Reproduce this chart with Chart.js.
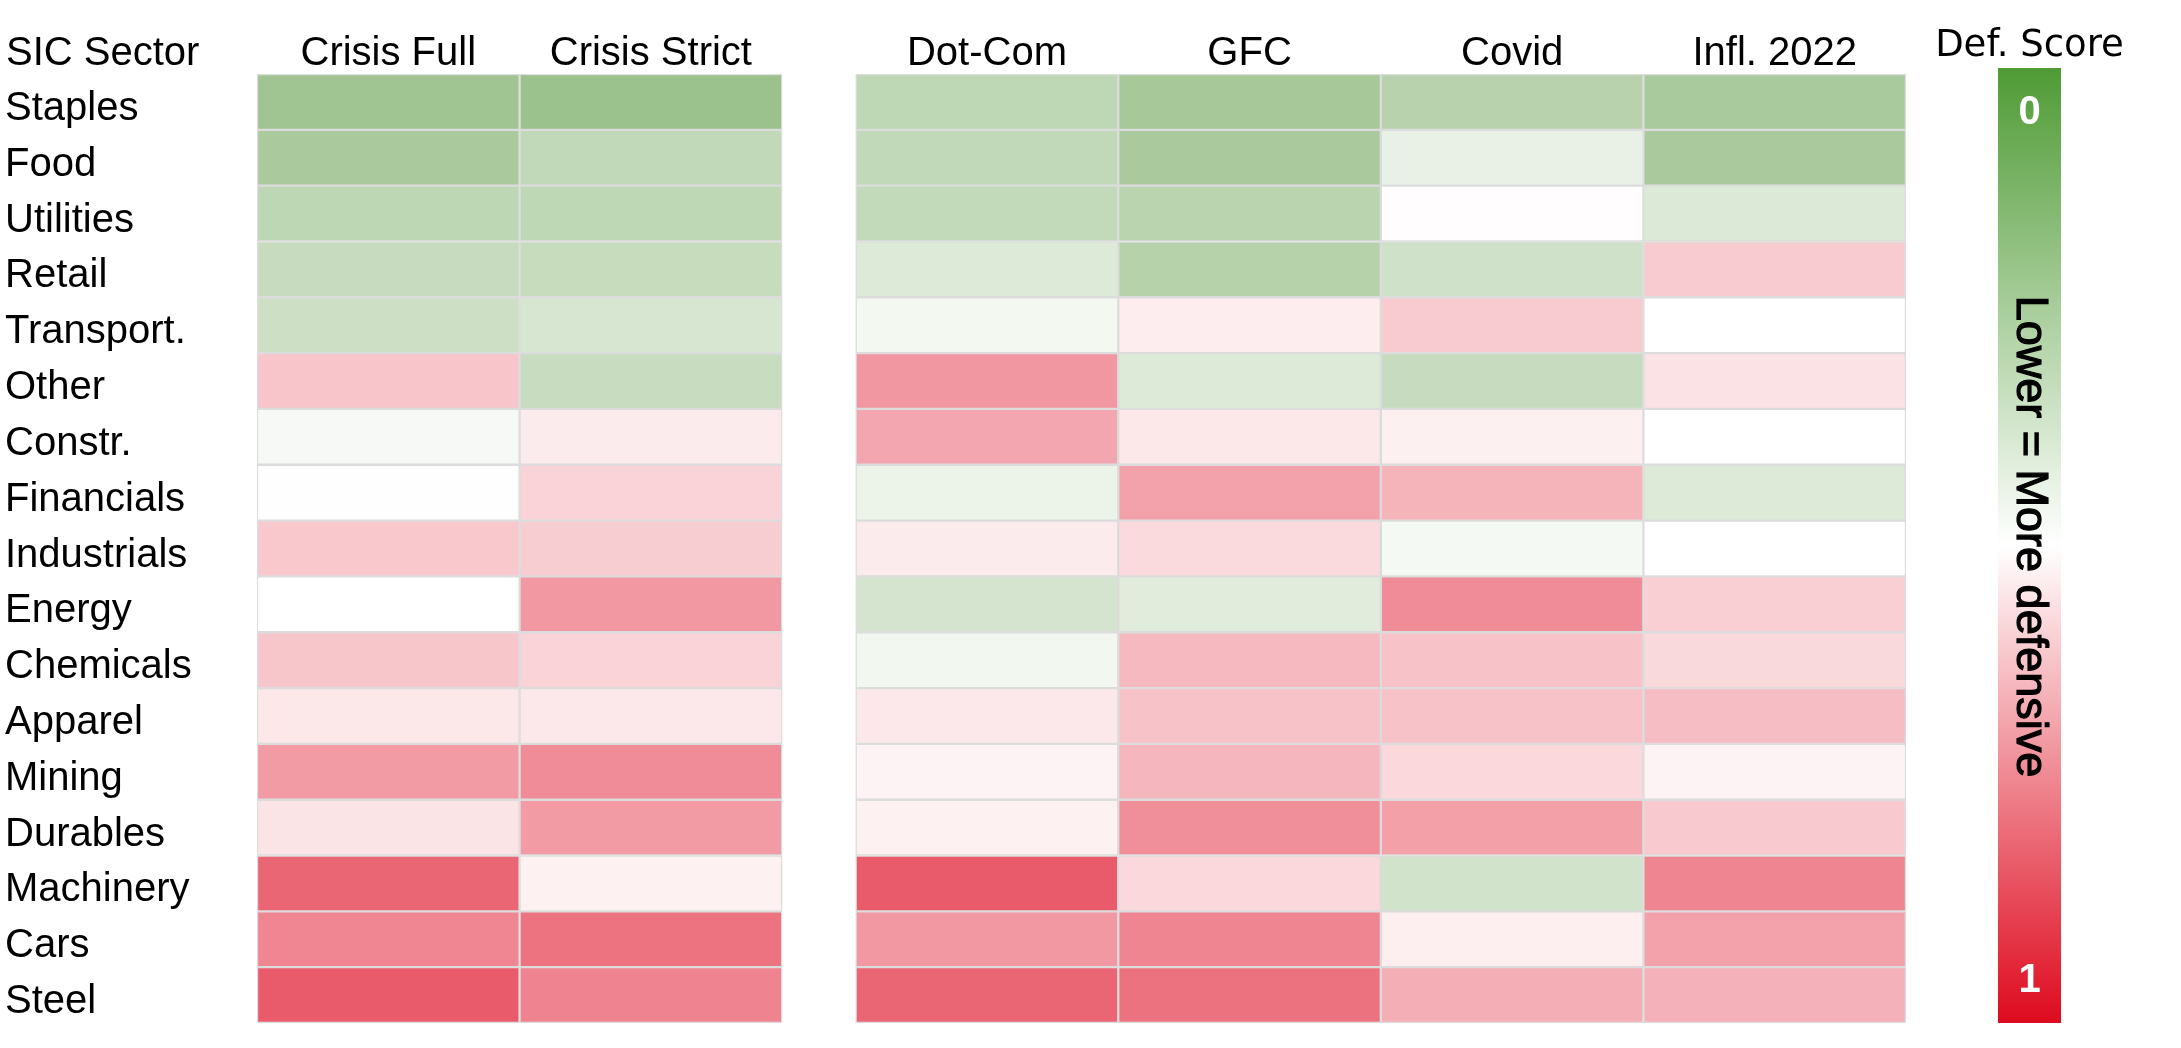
<!DOCTYPE html>
<html>
<head>
<meta charset="utf-8">
<script src="https://cdn.jsdelivr.net/npm/chart.js@4"></script>
<style>
  html, body { margin: 0; padding: 0; background: #fff; }
  #wrap { width: 2181px; height: 1048px; }
</style>
</head>
<body>
<div id="wrap"><canvas id="chart"></canvas></div>
<script>
const sectors = ['Staples', 'Food', 'Utilities', 'Retail', 'Transport.', 'Other', 'Constr.',
    'Financials', 'Industrials', 'Energy', 'Chemicals', 'Apparel', 'Mining', 'Durables',
    'Machinery', 'Cars', 'Steel']
const columns = ['Crisis Full', 'Crisis Strict', 'Dot-Com', 'GFC', 'Covid', 'Infl. 2022']

/* defensive score per column, 0 = most defensive, 1 = least */
const crisisFull = [0.225, 0.254, 0.309, 0.338, 0.355, 0.616, 0.474, 0.501, 0.61, 0.50, 0.614, 0.548, 0.70, 0.554, 0.805, 0.741, 0.827]
const crisisStrict = [0.211, 0.324, 0.312, 0.335, 0.384, 0.341, 0.54, 0.588, 0.60, 0.705, 0.588, 0.546, 0.729, 0.70, 0.528, 0.779, 0.747]
const dotCom = [0.312, 0.324, 0.327, 0.402, 0.465, 0.707, 0.677, 0.445, 0.54, 0.376, 0.462, 0.546, 0.524, 0.528, 0.829, 0.705, 0.805]
const gfc = [0.246, 0.254, 0.298, 0.289, 0.536, 0.402, 0.548, 0.687, 0.574, 0.413, 0.639, 0.622, 0.645, 0.725, 0.578, 0.743, 0.781]
const covid = [0.292, 0.436, 0.503, 0.361, 0.604, 0.338, 0.53, 0.651, 0.471, 0.729, 0.62, 0.62, 0.578, 0.689, 0.367, 0.532, 0.661]
const infl2022 = [0.251, 0.254, 0.399, 0.604, 0.50, 0.558, 0.50, 0.402, 0.50, 0.596, 0.576, 0.631, 0.524, 0.606, 0.743, 0.685, 0.655]

const scores = [crisisFull, crisisStrict, dotCom, gfc, covid, infl2022]

/* gap between the two crisis columns and the episode columns */
const groupGap = 0.28
const colStart = columns.map((c, i) => i < 2 ? i : i + groupGap)
const colEnd = colStart[colStart.length - 1] + 1

const green = [82, 148, 56]
const red = [222, 4, 28]

function scoreColor(v) {
    let from, to, t
    if (v <= 0.5) {
        from = green; to = [255, 255, 255]; t = v / 0.5
    } else {
        from = [255, 255, 255]; to = red; t = (v - 0.5) / 0.5
    }
    const c = from.map((f, k) => Math.round(f + (to[k] - f) * t))
    return 'rgb(' + c.join(',') + ')'
}

const datasets = columns.map((name, j) => ({
    label: name,
    data: sectors.map(() => [colStart[j], colStart[j] + 1]),
    backgroundColor: scores[j].map(scoreColor),
    borderColor: '#dcdcdc',
    borderWidth: 1.5,
    borderSkipped: false,
    grouped: false,
    barPercentage: 1,
    categoryPercentage: 1,
}))

const labelFont = { family: 'Liberation Sans, Arial, sans-serif', size: 40 }

/* header text, colour bar and its labels */
const extras = {
    id: 'extras',
    afterDraw(chart) {
        const ctx = chart.ctx
        const area = chart.chartArea
        ctx.save()
        ctx.fillStyle = '#000'
        ctx.font = '40px Liberation Sans, Arial, sans-serif'
        ctx.textAlign = 'left'
        ctx.textBaseline = 'alphabetic'
        ctx.fillText('SIC Sector', 6, 65)

        const bx = 1998, bw = 63
        const top = area.top - 6, bottom = area.bottom
        const grad = ctx.createLinearGradient(0, top, 0, bottom)
        grad.addColorStop(0, '#4f9b35')
        grad.addColorStop(0.5, '#ffffff')
        grad.addColorStop(1, '#de0a1e')
        ctx.fillStyle = grad
        ctx.fillRect(bx, top, bw, bottom - top)

        const cx = bx + bw / 2
        ctx.fillStyle = '#fff'
        ctx.textAlign = 'center'
        ctx.textBaseline = 'middle'
        ctx.font = 'bold 40px Liberation Sans, Arial, sans-serif'
        ctx.fillText('0', cx, top + 45)
        ctx.fillText('1', cx, bottom - 42)

        ctx.fillStyle = '#000'
        ctx.font = '37px DejaVu Sans, sans-serif'
        ctx.textBaseline = 'alphabetic'
        ctx.fillText('Def. Score', cx, 56)

        ctx.translate(cx, (top + bottom) / 2 - 9)
        ctx.rotate(Math.PI / 2)
        ctx.font = '45px Liberation Sans, Arial, sans-serif'
        ctx.textBaseline = 'middle'
        ctx.strokeStyle = '#000'
        ctx.lineWidth = 1.2
        ctx.fillText('Lower = More defensive', 0, 0)
        ctx.strokeText('Lower = More defensive', 0, 0)
        ctx.restore()
    }
}

const myChart = new Chart(document.getElementById('chart'), {
    type: 'bar',
    data: {
        labels: sectors,
        datasets: datasets
    },
    options: {
        indexAxis: 'y',
        responsive: true,
        maintainAspectRatio: false,
        animation: false,
        layout: {
            padding: { left: 5, right: 275, top: 0, bottom: 25 }
        },
        plugins: {
            legend: { display: false },
            tooltip: { enabled: false }
        },
        scales: {
            x: {
                type: 'linear',
                position: 'top',
                min: 0,
                max: colEnd,
                afterBuildTicks: (scale) => {
                    scale.ticks = colStart.map(s => ({ value: s + 0.5 }))
                },
                afterFit: (scale) => { scale.height = 74 },
                grid: { display: false, drawTicks: false },
                border: { display: false },
                ticks: {
                    autoSkip: false,
                    maxRotation: 0,
                    padding: -4,
                    color: '#000',
                    font: labelFont,
                    callback: (value, index) => columns[index]
                }
            },
            y: {
                type: 'category',
                afterFit: (scale) => { scale.width = 252 },
                grid: { display: false, drawTicks: false },
                border: { display: false },
                ticks: {
                    crossAlign: 'far',
                    padding: 0,
                    labelOffset: 7,
                    color: '#000',
                    font: labelFont
                }
            }
        }
    },
    plugins: [extras]
})
</script>
</body>
</html>
